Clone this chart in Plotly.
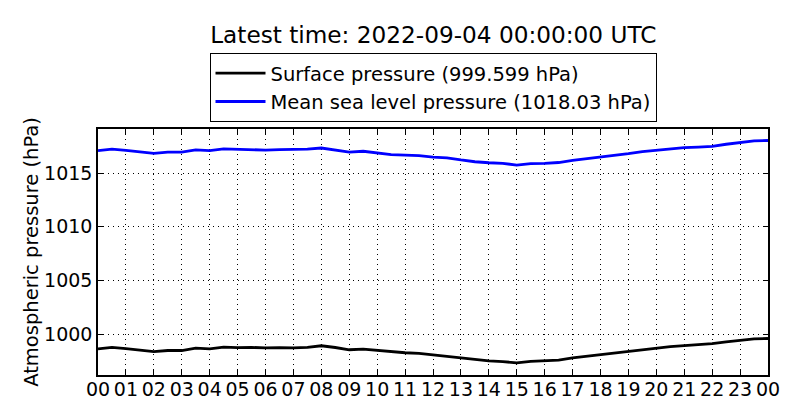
import pandas as pd
import plotly.graph_objects as go

# half-hourly readings, 2022-09-03 00:00 .. 2022-09-04 00:00 UTC
times = pd.date_range("2022-09-03 00:00", "2022-09-04 00:00", freq="30min")

mslp = [
    1017.08, 1017.22, 1017.11, 1016.95, 1016.83, 1016.95, 1016.95, 1017.15,
    1017.08, 1017.25, 1017.20, 1017.22, 1017.14, 1017.18, 1017.17, 1017.22,
    1017.33, 1017.17, 1016.95, 1017.03, 1016.89, 1016.72, 1016.66, 1016.62,
    1016.48, 1016.42, 1016.22, 1016.05, 1015.96, 1015.90, 1015.74, 1015.88,
    1015.90, 1015.98, 1016.18, 1016.34, 1016.43, 1016.63, 1016.80, 1017.00,
    1017.14, 1017.28, 1017.36, 1017.42, 1017.48, 1017.68, 1017.85, 1018.00,
    1018.03,
]

surface = [
    998.63, 998.77, 998.66, 998.51, 998.38, 998.48, 998.48, 998.70,
    998.63, 998.80, 998.75, 998.77, 998.72, 998.74, 998.72, 998.78,
    998.92, 998.76, 998.55, 998.60, 998.48, 998.33, 998.27, 998.22,
    998.08, 997.98, 997.79, 997.66, 997.51, 997.45, 997.33, 997.46,
    997.51, 997.59, 997.79, 997.95, 998.10, 998.28, 998.44, 998.60,
    998.72, 998.85, 998.94, 999.02, 999.12, 999.28, 999.45, 999.56,
    999.599,
]

title_text = "Latest time: 2022-09-04 00:00:00 UTC"
surface_name = "Surface pressure (999.599 hPa)"
mslp_name = "Mean sea level pressure (1018.03 hPa)"

font = "DejaVu Sans, Liberation Sans, sans-serif"

fig = go.Figure()
fig.add_trace(go.Scatter(x=times, y=surface, mode="lines", name=surface_name,
                         line=dict(color="black", width=2.8)))
fig.add_trace(go.Scatter(x=times, y=mslp, mode="lines", name=mslp_name,
                         line=dict(color="blue", width=2.8)))

axis_common = dict(
    showline=True, linecolor="black", linewidth=1.5, mirror="ticks",
    ticks="inside", ticklen=5, tickcolor="black", tickwidth=1,
    showgrid=True, gridcolor="black", gridwidth=1, griddash="1px,4px",
    zeroline=False, automargin=False, tickfont=dict(size=19, color="black"),
)

fig.update_xaxes(
    range=[times[0], times[-1]], dtick=3600000, tickformat="%H",
    ticklabelstandoff=-4,
    **axis_common,
)
fig.update_yaxes(
    range=[996.2, 1019.1], tickvals=[1000, 1005, 1010, 1015],
    title=dict(text="Atmospheric pressure (hPa)", font=dict(size=19.5, color="black"), standoff=0),
    **axis_common,
)

# the page body adds an 8px offset, so the figure is 8px smaller
fig.update_layout(
    width=792, height=412,
    margin=dict(l=90, r=32, t=121, b=45),
    paper_bgcolor="white", plot_bgcolor="white",
    font=dict(family=font, color="black"),
    title=dict(text=title_text, x=0.537, xanchor="center", y=0.935, yanchor="middle",
               font=dict(size=23.2, color="black")),
    legend=dict(x=0.5, xanchor="center", y=1.309, yanchor="top",
                bordercolor="black", borderwidth=1, bgcolor="white",
                itemwidth=50, font=dict(size=19.5, color="black")),
    showlegend=True,
)

fig.write_html("out.html")
